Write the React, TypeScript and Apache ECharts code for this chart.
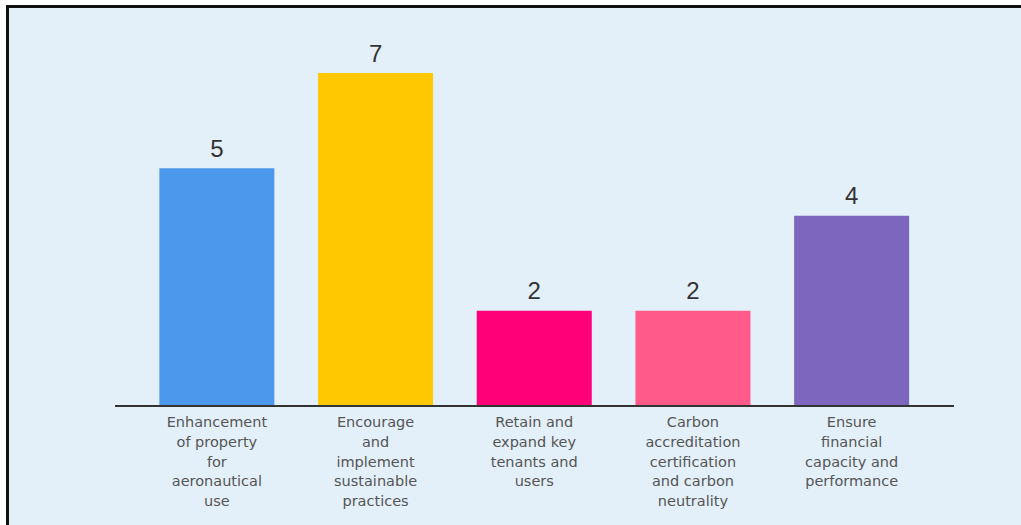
import React, { useEffect, useRef } from "react";
import * as echarts from "echarts";

const categories = [
  "Enhancement\nof property\nfor\naeronautical\nuse",
  "Encourage\nand\nimplement\nsustainable\npractices",
  "Retain and\nexpand key\ntenants and\nusers",
  "Carbon\naccreditation\ncertification\nand carbon\nneutrality",
  "Ensure\nfinancial\ncapacity and\nperformance",
];
const values = [5, 7, 2, 2, 4];
const colors = ["#4b98ec", "#ffc800", "#ff0078", "#ff5a8a", "#7d66bd"];

export default function App() {
  const ref = useRef<HTMLDivElement>(null);
  useEffect(() => {
    document.body.style.margin = "0";
    const chart = echarts.init(ref.current!, null, { renderer: "svg" });
    chart.setOption({
      animation: false,
      backgroundColor: "#ffffff",
      graphic: [
        { type: "rect", z: -10, shape: { x: 6, y: 5, width: 1015, height: 520 }, style: { fill: "#e3f0fa" } },
        { type: "rect", z: 10, shape: { x: 6, y: 5, width: 1015, height: 3 }, style: { fill: "#111" } },
        { type: "rect", z: 10, shape: { x: 6, y: 5, width: 3, height: 520 }, style: { fill: "#111" } },
        { type: "line", z: 100, shape: { x1: 115, y1: 406, x2: 954, y2: 406 }, style: { stroke: "#333", lineWidth: 2 } },
      ],
      grid: { left: 137.5, right: 90, top: 73, bottom: 119, containLabel: false },
      xAxis: {
        type: "category",
        data: categories,
        axisLine: { show: false },
        axisTick: { show: false },
        axisLabel: {
          interval: 0,
          margin: 6,
          color: "#555",
          fontFamily: "DejaVu Sans",
          fontSize: 14.5,
          lineHeight: 19.8,
          align: "center",
        },
      },
      yAxis: { type: "value", min: 0, max: 7, show: false, splitLine: { show: false } },
      series: [
        {
          type: "bar",
          barWidth: 115,
          data: values.map((v, i) => ({ value: v, itemStyle: { color: colors[i] } })),
          label: {
            show: true,
            position: "top",
            distance: 8,
            color: "#333",
            fontFamily: "Liberation Sans",
            fontSize: 24,
          },
        },
      ],
    });
    return () => chart.dispose();
  }, []);
  return <div ref={ref} style={{ width: 1021, height: 525 }} />;
}
